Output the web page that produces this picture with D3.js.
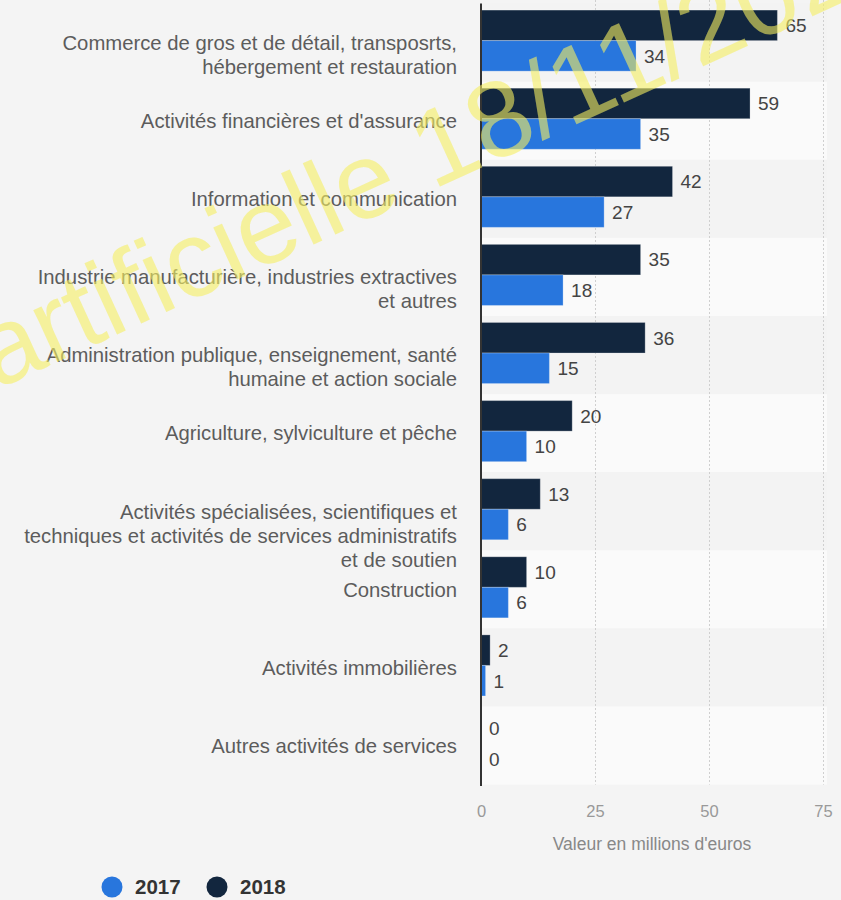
<!DOCTYPE html>
<html>
<head>
<meta charset="utf-8">
<script src="https://cdn.jsdelivr.net/npm/d3@7"></script>
<style>
  html, body { margin: 0; padding: 0; background: #f4f4f4; }
  svg { display: block; font-family: "Liberation Sans", Arial, sans-serif; }
</style>
</head>
<body>
<svg id="chart" width="841" height="900"></svg>
<script>
// ---- data ----
const categories = [
  "Commerce de gros et de détail, transposrts,\nhébergement et restauration",
  "Activités financières et d'assurance",
  "Information et communication",
  "Industrie manufacturière, industries extractives\net autres",
  "Administration publique, enseignement, santé\nhumaine et action sociale",
  "Agriculture, sylviculture et pêche",
  "Activités spécialisées, scientifiques et\ntechniques et activités de services administratifs\net de soutien",
  "Construction",
  "Activités immobilières",
  "Autres activités de services"
];
const values2018 = [65, 59, 42, 35, 36, 20, 13, 10, 2, 0];
const values2017 = [34, 35, 27, 18, 15, 10, 6, 6, 1, 0];
const seriesNames = ["2018", "2017"];
const legendNames = ["2017", "2018"];
const xTicks = [0, 25, 50, 75];
const axisTitle = "Valeur en millions d'euros";
const watermarkText = "artificielle 18/11/2024";

const colors = { "2017": "#2876dd", "2018": "#12263e" };

// ---- layout ----
const svg = d3.select("#chart");
const plotLeft = 481, plotRight = 823, plotTop = 3.6, plotBottom = 784.6;

const x = d3.scaleLinear().domain([0, 75]).range([plotLeft, plotRight]);
const y = d3.scaleBand().domain(d3.range(categories.length)).range([plotTop, plotBottom]).padding(0);
const bw = y.bandwidth();
const inner = d3.scaleBand().domain(seriesNames).range([bw * 0.083, bw * 0.865]).padding(0);

const data = categories.map((c, i) => ({ i, cat: c, "2018": values2018[i], "2017": values2017[i] }));

// bands
svg.append("g").selectAll("rect").data(data).join("rect")
  .attr("x", plotLeft).attr("width", 827 - plotLeft)
  .attr("y", d => y(d.i)).attr("height", bw)
  .attr("fill", d => d.i % 2 === 0 ? "#f3f3f3" : "#fafafa");

// gridlines
svg.append("g").selectAll("line").data(xTicks.filter(t => t > 0)).join("line")
  .attr("x1", d => x(d) + 0.5).attr("x2", d => x(d) + 0.5)
  .attr("y1", 0).attr("y2", plotBottom)
  .attr("stroke", "#cfcfcf").attr("stroke-width", 1).attr("stroke-dasharray", "2,2");

// bars
const groups = svg.append("g").selectAll("g").data(data).join("g")
  .attr("transform", d => `translate(0,${y(d.i)})`);
groups.selectAll("rect").data(d => seriesNames.map(s => ({ s, v: d[s] }))).join("rect")
  .attr("x", x(0))
  .attr("y", d => inner(d.s))
  .attr("width", d => x(d.v) - x(0))
  .attr("height", inner.bandwidth())
  .attr("fill", d => colors[d.s])
  .attr("stroke", d => d.v > 0 ? "rgba(255,255,255,0.25)" : "none")
  .attr("stroke-width", 1);
groups.selectAll("text").data(d => seriesNames.map(s => ({ s, v: d[s] }))).join("text")
  .attr("x", d => x(d.v) + 8)
  .attr("y", d => inner(d.s) + inner.bandwidth() / 2)
  .attr("dy", "0.36em")
  .attr("font-size", 19)
  .attr("fill", "#444")
  .text(d => d.v);

// axis line
svg.append("line").attr("x1", plotLeft).attr("x2", plotLeft)
  .attr("y1", plotTop).attr("y2", plotBottom + 1.5)
  .attr("stroke", "#333").attr("stroke-width", 2);

// category labels
const catG = svg.append("g");
data.forEach(d => {
  const lines = d.cat.split("\n");
  const t = catG.append("text")
    .attr("text-anchor", "end")
    .attr("font-size", 20.3)
    .attr("fill", "#5c5c5c");
  lines.forEach((ln, k) => {
    t.append("tspan")
      .attr("x", 457)
      .attr("y", y(d.i) + bw / 2 + 7.3 + k * 24)
      .text(ln);
  });
});

// x axis ticks
const xAxis = d3.axisBottom(x).tickValues(xTicks).tickSize(0).tickPadding(0);
const axG = svg.append("g").attr("transform", `translate(0,${plotBottom})`).call(xAxis);
axG.select(".domain").remove();
axG.selectAll("text")
  .attr("y", 32).attr("dy", 0)
  .attr("font-size", 16.5)
  .attr("font-family", "Liberation Sans, Arial, sans-serif")
  .attr("fill", "#999");

svg.append("text")
  .attr("x", 652).attr("y", 850)
  .attr("text-anchor", "middle")
  .attr("font-size", 17.5)
  .attr("fill", "#888")
  .text(axisTitle);

// legend
const legX = [112, 217];
const lg = svg.append("g").selectAll("g").data(legendNames).join("g")
  .attr("transform", (d, i) => `translate(${legX[i]},887)`);
lg.append("circle").attr("r", 10.5).attr("fill", d => colors[d]);
lg.append("text").attr("x", 23).attr("dy", "0.36em")
  .attr("font-size", 20.5).attr("font-weight", "bold").attr("fill", "#333")
  .text(d => d);

// watermark
svg.append("text")
  .attr("transform", "translate(-4,390) rotate(-24.6)")
  .attr("font-size", 108)
  .attr("fill", "#f5ee60")
  .attr("fill-opacity", 0.6)
  .text(watermarkText);
</script>
</body>
</html>
